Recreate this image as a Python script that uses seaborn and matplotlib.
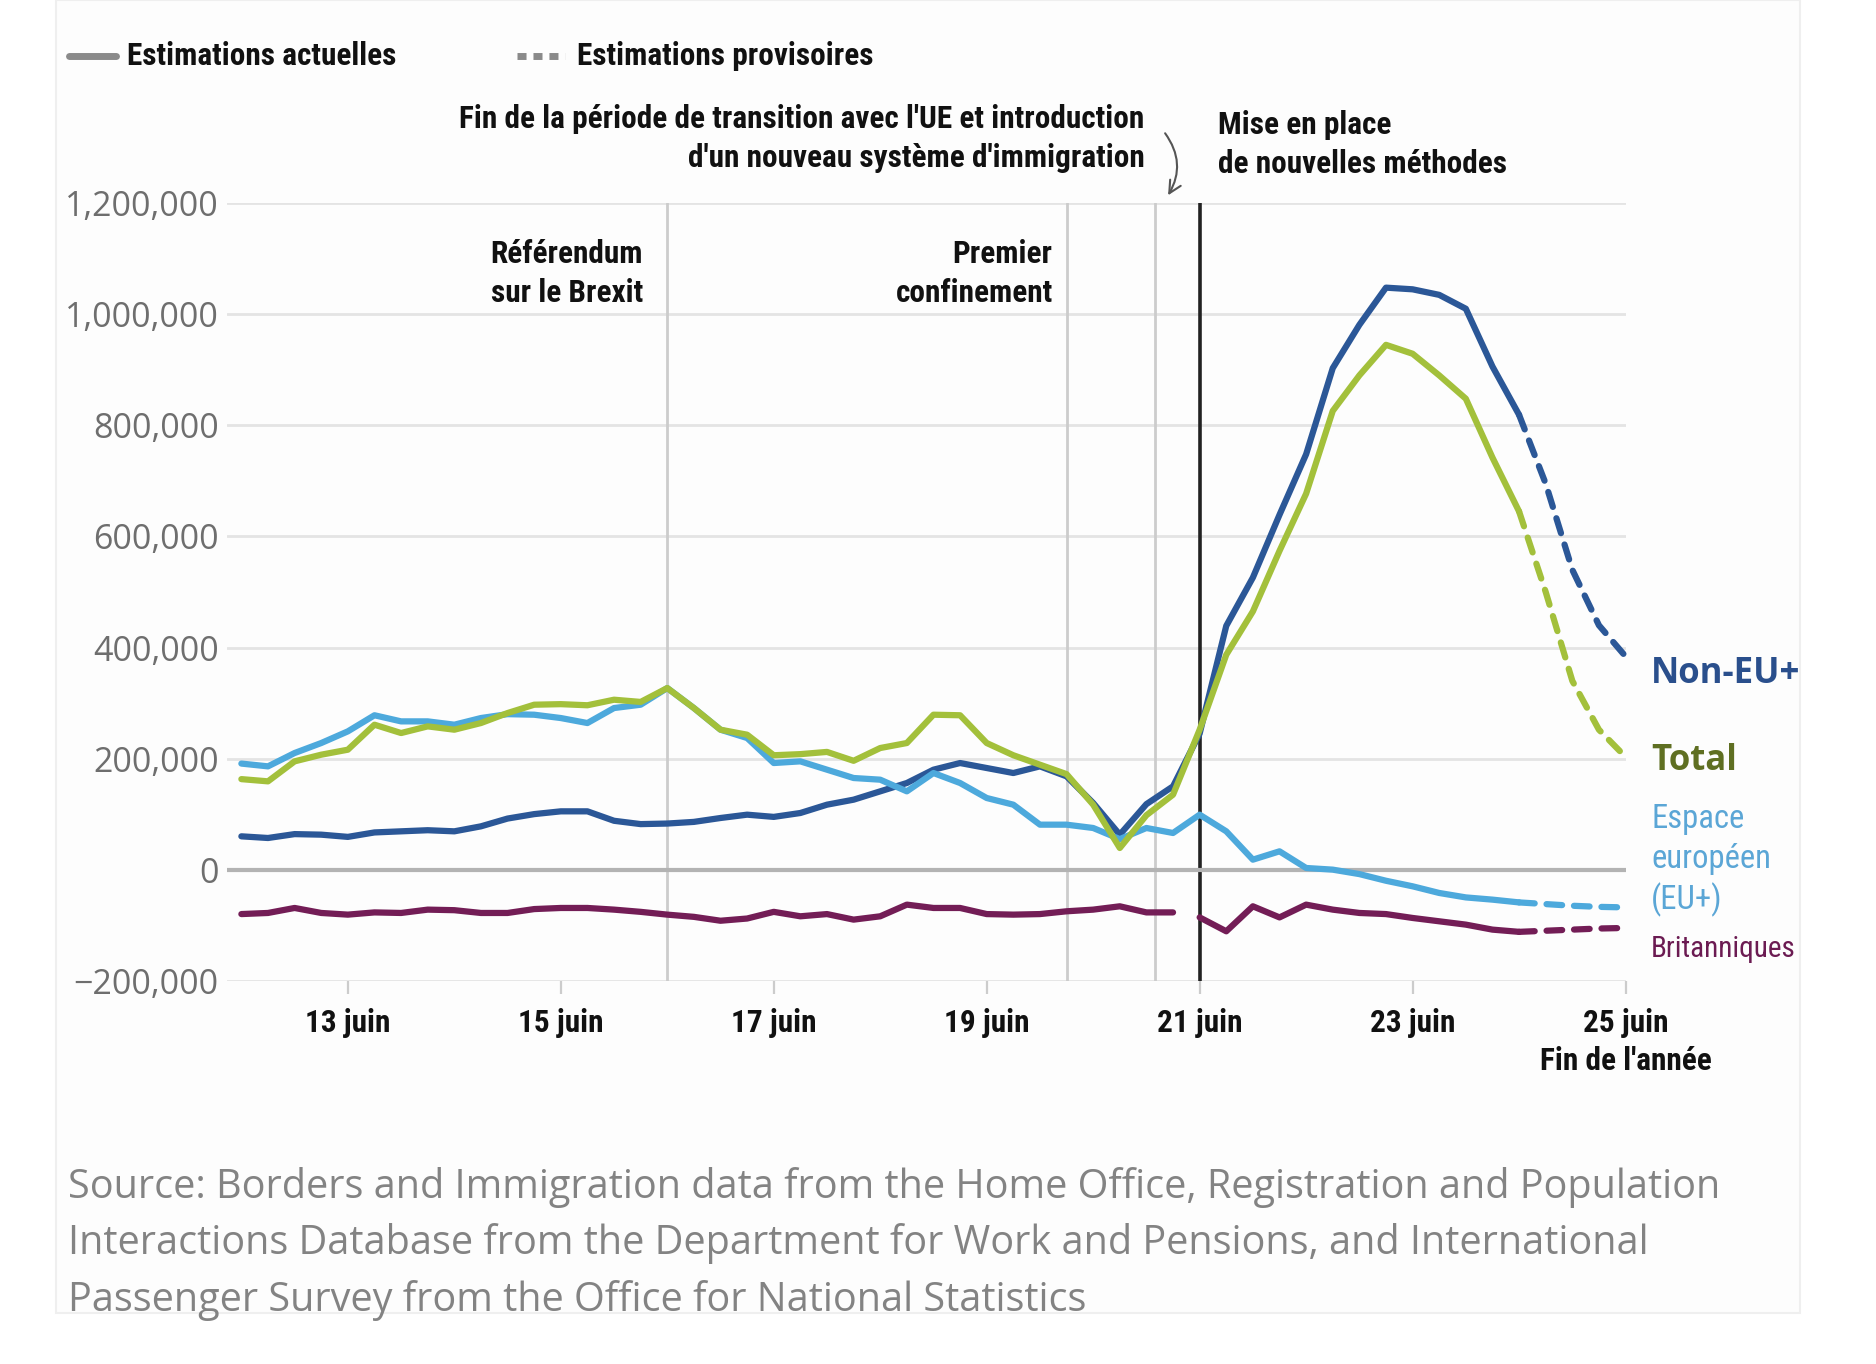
import matplotlib
matplotlib.use("Agg")
import matplotlib.pyplot as plt
import seaborn as sns
import pandas as pd
from matplotlib import font_manager as fm
from matplotlib.ticker import FuncFormatter
from matplotlib.lines import Line2D
from matplotlib.patches import Rectangle

# ---------------- data ----------------
quarters = [12.00, 12.25, 12.50, 12.75, 13.00, 13.25, 13.50, 13.75, 14.00, 14.25,
            14.50, 14.75, 15.00, 15.25, 15.50, 15.75, 16.00, 16.25, 16.50, 16.75,
            17.00, 17.25, 17.50, 17.75, 18.00, 18.25, 18.50, 18.75, 19.00, 19.25,
            19.50, 19.75, 20.00, 20.25, 20.50, 20.75, 21.00, 21.25, 21.50, 21.75,
            22.00, 22.25, 22.50, 22.75, 23.00, 23.25, 23.50, 23.75, 24.00]

non_eu = [60, 57, 64, 63, 59, 67, 69, 71, 69, 78,
          92, 100, 105, 105, 88, 82, 83, 86, 93, 99,
          95, 102, 117, 126, 141, 156, 180, 192, 183, 174,
          186, 168, 120, 63, 118, 150, 245, 439, 526, 639,
          748, 903, 981, 1048, 1045, 1035, 1010, 906, 819]

total = [163, 159, 195, 207, 216, 261, 246, 258, 252, 264,
         282, 297, 298, 296, 306, 302, 327, 291, 252, 243,
         206, 208, 212, 196, 219, 228, 279, 278, 228, 206,
         189, 172, 117, 39, 98, 135, 252, 387, 465, 574,
         677, 826, 890, 945, 929, 890, 848, 742, 645]

eu = [191, 186, 210, 228, 249, 278, 267, 267, 261, 273,
      280, 279, 273, 264, 291, 297, 327, 291, 252, 237,
      192, 195, 180, 165, 162, 141, 174, 156, 129, 117,
      81, 81, 75, 55, 75, 66, 99, 69, 18, 33,
      3, 0, -8, -20, -30, -42, -50, -54, -59]

brit = [-80, -78, -69, -78, -81, -77, -78, -72, -73, -78,
        -78, -71, -69, -69, -72, -76, -81, -85, -92, -88,
        -76, -84, -80, -90, -84, -63, -69, -69, -80, -81,
        -80, -75, -72, -66, -77, -77, -86, -111, -66, -86,
        -63, -72, -78, -80, -87, -93, -99, -108, -112]
brit_break_after = 20.75   # series interrupted at the method change

prov_quarters = [24.00, 24.25, 24.50, 24.75, 25.00]
prov_non_eu = [819, 695, 540, 440, 384]
prov_total = [645, 500, 340, 252, 203]
prov_eu = [-59, -62, -65, -67, -68]
prov_brit = [-112, -110, -108, -106, -105]

xtick_values = [13, 15, 17, 19, 21, 23, 25]
xtick_labels = ["13 juin", "15 juin", "17 juin", "19 juin", "21 juin", "23 juin",
                "25 juin\nFin de l'année"]
ytick_values = [-200000, 0, 200000, 400000, 600000, 800000, 1000000, 1200000]

events = [16.0, 19.75, 20.58]
method_change = 21.0

source_text = ("Source: Borders and Immigration data from the Home Office, Registration and Population\n"
               "Interactions Database from the Department for Work and Pensions, and International\n"
               "Passenger Survey from the Office for National Statistics")

# ---------------- fonts ----------------
sns.set_theme(style="white")
plt.rcParams["font.family"] = ["Open Sans", "DejaVu Sans"]
plt.rcParams["axes.unicode_minus"] = True


def pick_condensed(target_weight=700):
    prefs = ["liberation sans narrow", "roboto condensed", "noto sans condensed",
             "open sans condensed", "dejavu sans condensed", "dejavu sans"]
    cands = []
    for f in fm.fontManager.ttflist:
        n = f.name.lower()
        p = f.fname.lower()
        if f.style != "normal" or "italic" in p or "oblique" in p:
            continue
        cond = ("narrow" in n or "condensed" in n or "narrow" in p or "condensed" in p
                or str(f.stretch) in ("condensed", "semi-condensed", "extra-condensed"))
        if not cond:
            continue
        rank = len(prefs)
        for i, pr in enumerate(prefs):
            if n.startswith(pr.split(" condensed")[0]):
                rank = i
                break
        w = f.weight if isinstance(f.weight, int) else {"normal": 400, "regular": 400,
                                                          "bold": 700, "medium": 500,
                                                          "semibold": 600}.get(str(f.weight), 400)
        cands.append((rank, abs(w - target_weight), -w, f.fname))
    if not cands:
        return None
    cands.sort()
    return cands[0][3]


COND_FILE = pick_condensed(700)
COND_FILE_REG = pick_condensed(400)


def cfont(size, regular=False):
    path = COND_FILE_REG if regular else COND_FILE
    if path:
        return fm.FontProperties(fname=path, size=size)
    return fm.FontProperties(family="Roboto", weight="medium", size=size * 0.85)


# ---------------- colours ----------------
COL = {"Britanniques": "#731d56", "Non-EU+": "#2b5797",
       "EU+": "#4da9dc", "Total": "#a3c03b"}

# ---------------- long table ----------------
rows = []
order = [("Britanniques", brit, prov_brit), ("Non-EU+", non_eu, prov_non_eu),
         ("EU+", eu, prov_eu), ("Total", total, prov_total)]
for name, vals, pvals in order:
    for q, v in zip(quarters, vals):
        seg = "actual"
        if name == "Britanniques":
            seg = "actual_a" if q <= brit_break_after else "actual_b"
        rows.append({"series": name, "segment": seg, "x": q, "value": v * 1000})
    for q, v in zip(prov_quarters, pvals):
        rows.append({"series": name, "segment": "prov", "x": q, "value": v * 1000})
df = pd.DataFrame(rows)

# ---------------- figure ----------------
W, H = 1876, 1364
fig = plt.figure(figsize=(W / 100, H / 100), dpi=100)
fig.patch.set_facecolor("white")
fig.patches.append(Rectangle((56 / W, 1 - 1313 / H), (1800 - 56) / W, 1313 / H,
                             transform=fig.transFigure, facecolor="#fdfdfd",
                             edgecolor="#efefef", lw=1.5, zorder=-10))
ax = fig.add_axes([0.121, 0.281, 0.7455, 0.570])
ax.patch.set_alpha(0)

for v in events:
    ax.axvline(v, color="#cccccc", lw=2, zorder=1)
ax.axvline(method_change, color="#222222", lw=2.6, zorder=1)
ax.axhline(0, color="#b3b3b3", lw=3, zorder=1.5)

for (name, seg), sub in df.groupby(["series", "segment"], sort=False):
    sns.lineplot(data=sub, x="x", y="value", ax=ax, color=COL[name], lw=4.5,
                 estimator=None, sort=False, legend=False, clip_on=False, zorder=3)
    ln = ax.lines[-1]
    ln.set_solid_capstyle("round")
    ln.set_solid_joinstyle("round")
    if seg == "prov":
        ln.set_dashes([2.5, 1.9])
        ln.set_dash_capstyle("round")

ax.set_xlim(11.865, 25.0)
ax.set_ylim(-200000, 1200000)
ax.set_yticks(ytick_values)
ax.yaxis.set_major_formatter(FuncFormatter(lambda v, p: f"{int(v):,}".replace("-", "\u2212")))
ax.set_xticks(xtick_values)
ax.set_xticklabels(xtick_labels)
ax.set_xlabel("")
ax.set_ylabel("")
for s in ax.spines.values():
    s.set_visible(False)
ax.grid(axis="y", color="#e4e4e4", lw=2)
ax.grid(axis="x", visible=False)
ax.set_axisbelow(True)
ax.tick_params(axis="y", length=0, pad=6, labelsize=24.5, labelcolor="#6e6e6e")
ax.tick_params(axis="x", length=9, width=1.6, color="#cccccc", pad=11, labelcolor="#111111",
               direction="out", bottom=True)
FS = 22.5
LS = 1.38
for lab in ax.get_xticklabels():
    lab.set_fontproperties(cfont(FS))
    lab.set_linespacing(1.32)

# annotations
ax.text(15.77, 1073000, "Référendum\nsur le Brexit", ha="right", va="center",
        fontproperties=cfont(FS), color="#111111", linespacing=LS)
ax.text(19.62, 1073000, "Premier\nconfinement", ha="right", va="center",
        fontproperties=cfont(FS), color="#111111", linespacing=LS)
ax.text(20.48, 1316000,
        "Fin de la période de transition avec l'UE et introduction\nd'un nouveau système d'immigration",
        ha="right", va="center", fontproperties=cfont(FS), color="#111111",
        linespacing=LS, clip_on=False)
ax.text(21.17, 1305000, "Mise en place\nde nouvelles méthodes", ha="left", va="center",
        fontproperties=cfont(FS), color="#111111", linespacing=LS, clip_on=False)
ax.annotate("", xy=(20.69, 1210000), xytext=(20.66, 1330000),
            arrowprops=dict(arrowstyle="->", color="#555555", lw=1.5, mutation_scale=22,
                            connectionstyle="arc3,rad=-0.35"), annotation_clip=False)

# series labels
ax.text(25.24, 353000, "Non-EU+", ha="left", va="center", fontsize=25, fontweight="bold",
        color="#2a4f8c", clip_on=False)
ax.text(25.24, 196000, "Total", ha="left", va="center", fontsize=25, fontweight="bold",
        color="#5f6f22", clip_on=False)
ax.text(25.24, 17000, "Espace\neuropéen\n(EU+)", ha="left", va="center",
        fontproperties=cfont(23.5, regular=True), color="#5ba6d6", linespacing=1.3,
        clip_on=False)
ax.text(25.24, -143000, "Britanniques", ha="left", va="center",
        fontproperties=cfont(21, regular=True), color="#6b1b52", clip_on=False)

# legend (top)
ly = 1 - 56 / H
fig.add_artist(Line2D([69 / W, 116 / W], [ly, ly], transform=fig.transFigure,
                      color="#8a8a8a", lw=5))
fig.text(127 / W, ly, "Estimations actuelles", ha="left", va="center",
         fontproperties=cfont(FS), color="#111111")
fig.add_artist(Line2D([517 / W, 565 / W], [ly, ly], transform=fig.transFigure,
                      color="#8a8a8a", lw=5, dashes=[1.3, 1.0]))
fig.text(577 / W, ly, "Estimations provisoires", ha="left", va="center",
         fontproperties=cfont(FS), color="#111111")

# source
fig.text(68 / W, 1 - 1244 / H, source_text, ha="left", va="center", fontsize=28.5,
         color="#838383", linespacing=1.5)

fig.savefig("out.png", dpi=100, facecolor="white")
